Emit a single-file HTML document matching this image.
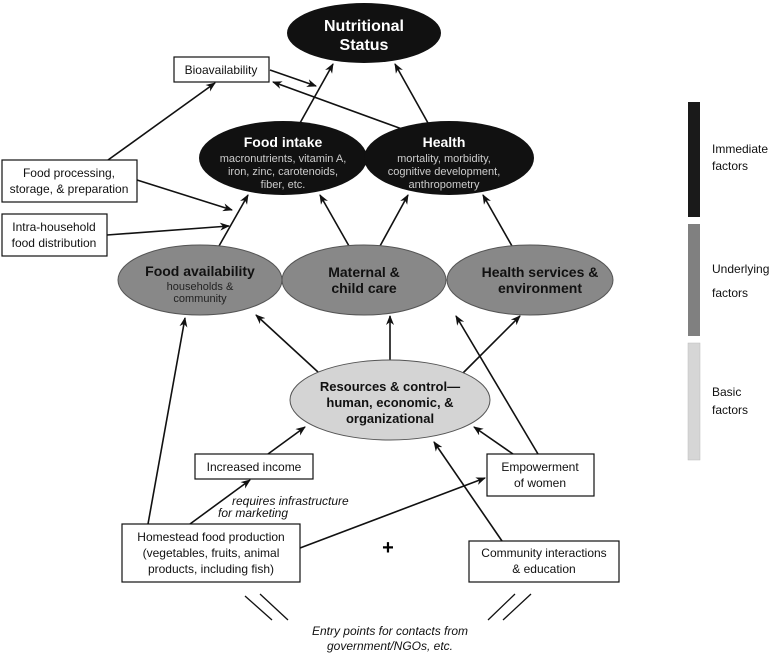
<!DOCTYPE html>
<html><head><meta charset="utf-8"><style>
html,body{margin:0;padding:0;background:#fff}
svg{display:block}
text{font-family:"Liberation Sans",sans-serif}
</style></head><body>
<svg width="778" height="655" viewBox="0 0 778 655" xmlns="http://www.w3.org/2000/svg">
<defs>
<marker id="a" markerWidth="10" markerHeight="8" refX="9" refY="4" orient="auto" markerUnits="userSpaceOnUse">
<path d="M0,0 L10,4 L0,8 L3,4 z" fill="#111"/></marker>
</defs>
<g stroke="#111" stroke-width="1.6" fill="none" marker-end="url(#a)">
<line x1="300" y1="123" x2="333" y2="64"/>
<line x1="428" y1="123" x2="395" y2="64"/>
<line x1="270" y1="70" x2="316" y2="86"/>
<line x1="402" y1="129" x2="273" y2="82"/>
<line x1="108" y1="160" x2="215" y2="83"/>
<line x1="137" y1="180" x2="232" y2="210"/>
<line x1="107" y1="235" x2="229" y2="226"/>
<line x1="219" y1="246" x2="248" y2="195"/>
<line x1="349" y1="246" x2="320" y2="195"/>
<line x1="380" y1="246" x2="408" y2="195"/>
<line x1="512" y1="246" x2="483" y2="195"/>
<line x1="318" y1="372" x2="256" y2="315"/>
<line x1="390" y1="360" x2="390" y2="316"/>
<line x1="462" y1="374" x2="520" y2="316"/>
<line x1="538" y1="454" x2="456" y2="316"/>
<line x1="148" y1="524" x2="185" y2="318"/>
<line x1="190" y1="524" x2="250" y2="480"/>
<line x1="268" y1="454" x2="305" y2="427"/>
<line x1="300" y1="548" x2="485" y2="478"/>
<line x1="502" y1="541" x2="434" y2="442"/>
<line x1="513" y1="454" x2="474" y2="427"/>
</g>
<!-- ellipses -->
<ellipse cx="364" cy="33" rx="77" ry="30" fill="#111"/>
<text x="364" y="31" fill="#fff" font-size="16" font-weight="bold" text-anchor="middle">Nutritional</text>
<text x="364" y="50" fill="#fff" font-size="16" font-weight="bold" text-anchor="middle">Status</text>
<ellipse cx="283" cy="158" rx="84" ry="37" fill="#111"/>
<text x="283" y="147" fill="#fff" font-size="14" font-weight="bold" text-anchor="middle">Food intake</text>
<g fill="#ccc" font-size="11" text-anchor="middle">
<text x="283" y="162">macronutrients, vitamin A,</text>
<text x="283" y="175">iron, zinc, carotenoids,</text>
<text x="283" y="188">fiber, etc.</text>
</g>
<ellipse cx="449" cy="158" rx="85" ry="37" fill="#111"/>
<text x="444" y="147" fill="#fff" font-size="14" font-weight="bold" text-anchor="middle">Health</text>
<g fill="#ccc" font-size="11" text-anchor="middle">
<text x="444" y="162">mortality, morbidity,</text>
<text x="444" y="175">cognitive development,</text>
<text x="444" y="188">anthropometry</text>
</g>
<g fill="#888" stroke="#555" stroke-width="1">
<ellipse cx="200" cy="280" rx="82" ry="35"/>
<ellipse cx="364" cy="280" rx="82" ry="35"/>
<ellipse cx="530" cy="280" rx="83" ry="35"/>
</g>
<text x="200" y="276" font-size="14" font-weight="bold" text-anchor="middle" fill="#111">Food availability</text>
<text x="200" y="290" font-size="11" text-anchor="middle" fill="#222">households &amp;</text>
<text x="200" y="302" font-size="11" text-anchor="middle" fill="#222">community</text>
<text x="364" y="277" font-size="14" font-weight="bold" text-anchor="middle" fill="#111">Maternal &amp;</text>
<text x="364" y="293" font-size="14" font-weight="bold" text-anchor="middle" fill="#111">child care</text>
<text x="540" y="277" font-size="14" font-weight="bold" text-anchor="middle" fill="#111">Health services &amp;</text>
<text x="540" y="293" font-size="14" font-weight="bold" text-anchor="middle" fill="#111">environment</text>
<ellipse cx="390" cy="400" rx="100" ry="40" fill="#d4d4d4" stroke="#555" stroke-width="1"/>
<g font-size="13" font-weight="bold" text-anchor="middle" fill="#111">
<text x="390" y="391">Resources &amp; control—</text>
<text x="390" y="407">human, economic, &amp;</text>
<text x="390" y="423">organizational</text>
</g>
<!-- boxes -->
<g fill="#fff" stroke="#111" stroke-width="1.2">
<rect x="174" y="57" width="95" height="25"/>
<rect x="2" y="160" width="135" height="42"/>
<rect x="2" y="214" width="105" height="42"/>
<rect x="195" y="454" width="118" height="25"/>
<rect x="487" y="454" width="107" height="42"/>
<rect x="122" y="524" width="178" height="58"/>
<rect x="469" y="541" width="150" height="41"/>
</g>
<g font-size="12" fill="#111" text-anchor="middle">
<text x="221" y="74">Bioavailability</text>
<text x="69" y="177">Food processing,</text>
<text x="69" y="193">storage, &amp; preparation</text>
<text x="54" y="231">Intra-household</text>
<text x="54" y="247">food distribution</text>
<text x="254" y="471">Increased income</text>
<text x="540" y="471">Empowerment</text>
<text x="540" y="487">of women</text>
<text x="211" y="541">Homestead food production</text>
<text x="211" y="557">(vegetables, fruits, animal</text>
<text x="211" y="573">products, including fish)</text>
<text x="544" y="557">Community interactions</text>
<text x="544" y="573">&amp; education</text>
</g>
<g font-size="12" font-style="italic" fill="#111">
<text x="232" y="505">requires infrastructure</text>
<text x="218" y="517">for marketing</text>
<text x="390" y="635" text-anchor="middle">Entry points for contacts from</text>
<text x="390" y="650" text-anchor="middle">government/NGOs, etc.</text>
</g>
<text x="388" y="554" font-size="20" font-weight="bold" text-anchor="middle">+</text>
<g stroke="#111" stroke-width="1.3">
<line x1="245" y1="596" x2="272" y2="620"/>
<line x1="260" y1="594" x2="288" y2="620"/>
<line x1="488" y1="620" x2="515" y2="594"/>
<line x1="503" y1="620" x2="531" y2="594"/>
</g>
<!-- legend -->
<rect x="688" y="102" width="12" height="115" fill="#1a1a1a"/>
<rect x="688" y="224" width="12" height="112" fill="#808080"/>
<rect x="688" y="343" width="12" height="117" fill="#d6d6d6" stroke="#bbb" stroke-width="0.5"/>
<g font-size="12" fill="#111">
<text x="712" y="153">Immediate</text><text x="712" y="170">factors</text>
<text x="712" y="273">Underlying</text><text x="712" y="297">factors</text>
<text x="712" y="396">Basic</text><text x="712" y="414">factors</text>
</g>
</svg>
</body></html>
